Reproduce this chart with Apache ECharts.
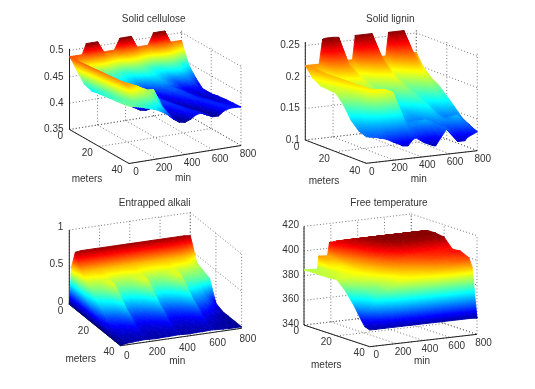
<!DOCTYPE html>
<html><head><meta charset="utf-8">
<style>html,body{margin:0;padding:0;background:#fff}#c{width:535px;height:389px}</style>
<script src="https://cdn.jsdelivr.net/npm/echarts@6/dist/echarts.min.js"></script></head>
<body><div id="c"></div>
<script>
// ---------- tick labels ----------
const minTicks=[0,200,400,600,800];
const meterTicks=[0,20,40];
const celluloseTicks=[0.35,0.4,0.45,0.5];
const ligninTicks=[0.1,0.15,0.2,0.25];
const alkaliTicks=[0,0.5,1];
const temperatureTicks=[340,360,380,400,420];
const titles=["Solid cellulose","Solid lignin","Entrapped alkali","Free temperature"];
const metersStd=[0,5,10,15,20,25,30,35,40];
// ---------- Solid cellulose ----------
const celluloseMin=[0,15,30,45,60,75,90,120,160,200,240,280,320,360,400,440,480,520,560,600,640,680,720,760,800];
const celluloseMeters=[0,1.5,5,10,15,20,25,30,35,40];
const celluloseZ=[
[.488,.488,.488,.488,.488,.488,.488,.508,.508,.508,.487,.487,.487,.508,.508,.508,.486,.486,.486,.508,.508,.508,.485,.485,.485],
[.484,.488,.486,.485,.484,.484,.484,.486,.487,.487,.484,.480,.480,.486,.487,.487,.482,.479,.479,.486,.487,.487,.480,.476,.472],
[.470,.486,.480,.470,.462,.458,.456,.454,.456,.460,.460,.456,.452,.452,.458,.460,.458,.452,.450,.452,.458,.460,.456,.450,.446],
[.452,.468,.485,.480,.470,.458,.448,.440,.436,.438,.442,.444,.442,.438,.434,.438,.442,.444,.440,.436,.432,.436,.438,.434,.428],
[.447,.454,.470,.484,.480,.468,.454,.436,.428,.424,.428,.432,.433,.432,.428,.423,.428,.432,.432,.428,.424,.420,.424,.424,.414],
[.450,.451,.456,.470,.483,.479,.466,.443,.430,.421,.418,.424,.429,.430,.427,.423,.418,.424,.428,.428,.424,.420,.416,.420,.416],
[.452,.452,.453,.458,.470,.482,.478,.452,.436,.424,.417,.415,.422,.427,.428,.424,.420,.415,.422,.426,.425,.421,.418,.416,.419],
[.454,.454,.454,.456,.461,.470,.481,.479,.474,.468,.463,.462,.430,.420,.424,.426,.422,.418,.414,.420,.425,.425,.421,.418,.421],
[.456,.456,.456,.456,.456,.457,.458,.458,.458,.458,.456,.441,.423,.414,.418,.424,.424,.420,.415,.413,.420,.425,.424,.422,.422],
[.459,.458,.457,.456,.455,.454,.453,.450,.447,.443,.437,.430,.420,.413,.411,.415,.422,.424,.418,.413,.413,.421,.424,.424,.423]];
// ---------- Solid lignin ----------
const ligninMin=[0,25,50,75,100,125,150,200,240,260,300,340,360,420,480,500,540,580,600,660,710,730,800];
const ligninZ=[
[.218,.218,.218,.218,.218,.257,.258,.258,.257,.219,.219,.219,.257,.257,.257,.219,.219,.219,.256,.256,.256,.219,.219],
[.2026,.216,.206,.202,.200,.205,.222,.228,.223,.218,.205,.200,.205,.225,.228,.222,.205,.200,.205,.225,.228,.222,.198],
[.195,.200,.212,.204,.196,.192,.192,.200,.206,.206,.200,.191,.188,.196,.206,.206,.197,.189,.187,.196,.206,.204,.187],
[.194,.195,.198,.210,.196,.186,.181,.180,.186,.190,.192,.186,.181,.177,.188,.192,.190,.182,.178,.178,.188,.190,.180],
[.1926,.193,.194,.197,.208,.194,.182,.170,.170,.172,.178,.180,.176,.166,.170,.174,.178,.176,.172,.164,.170,.174,.168],
[.179,.180,.182,.186,.192,.206,.190,.165,.156,.156,.160,.166,.168,.158,.152,.155,.163,.168,.166,.154,.150,.153,.156],
[.159,.160,.163,.168,.176,.188,.204,.203,.202,.200,.196,.165,.150,.146,.142,.143,.150,.156,.155,.145,.137,.138,.143],
[.147,.147,.148,.150,.152,.154,.155,.158,.160,.160,.158,.150,.146,.146,.152,.150,.146,.142,.142,.145,.154,.150,.136],
[.142,.141,.140,.139,.137,.136,.134,.128,.124,.121,.120,.130,.131,.122,.116,.115,.128,.140,.138,.118,.118,.123,.130]];
// ---------- Entrapped alkali ----------
const alkaliMin=[0,15,40,80,120,170,190,240,280,320,390,410,460,500,540,610,630,680,720,760,800];
const alkaliZ=[
[0,.50,.69,.70,.70,.70,.70,.70,.70,.70,.70,.70,.70,.70,.70,.70,.70,.70,.70,.70,.69],
[0,.36,.50,.50,.50,.50,.50,.50,.50,.50,.50,.50,.50,.50,.50,.50,.50,.50,.49,.46,.40],
[0,.26,.40,.40,.41,.43,.41,.40,.40,.41,.43,.41,.40,.40,.41,.43,.41,.40,.39,.38,.36],
[0,.18,.30,.33,.36,.43,.34,.32,.33,.36,.43,.34,.32,.33,.36,.43,.34,.33,.33,.33,.325],
[0,.12,.22,.24,.26,.33,.23,.22,.24,.26,.33,.23,.22,.24,.26,.33,.23,.22,.20,.14,.06],
[0,.07,.13,.14,.16,.22,.14,.13,.14,.16,.22,.14,.13,.14,.16,.22,.14,.13,.10,.06,.02],
[0,.04,.07,.08,.09,.12,.08,.07,.08,.09,.12,.08,.07,.08,.09,.12,.08,.06,.04,.025,.02],
[0,.02,.04,.045,.05,.06,.045,.04,.045,.05,.06,.045,.04,.045,.05,.06,.04,.03,.025,.02,.02],
[0,.01,.02,.025,.03,.035,.03,.025,.03,.03,.035,.03,.025,.03,.03,.035,.03,.025,.02,.02,.02]];
// ---------- Free temperature ----------
const temperatureMin=[0,50,100,110,175,190,240,300,360,420,480,540,600,660,720,760,800];
const temperatureMeters=[0,5,10,15,20,25,30,35,37,40];
const temperatureZ=[
[384.6,384.4,384,394.5,394,404.5,405,405,405,405,405,405,405,405,405,405,405],
[385,385,386,390,393,398,406,408,408,408,408,408,408,408,408,408,408],
[385,385.5,386,388,390,394,400,408,410.5,411,411,411,411,411,411,411,411],
[385,386,387,388,390,392,396,404,409,411,411,411,411,411,411,411,411],
[385.5,386.5,387.5,388,389,390,393,398,404,408,410,410,410,410,410,410,410],
[379,382,384,385,387,388,390,394,397,399,401,402,403,403,403,403,402.5],
[370,374,378,380,382,384,386,389,392,394,396,398,400,401,402,403,403],
[359,365,372,376,380,382,384,387,388,389,390,392,394,396,398,399,400],
[355,358,362,364,368,371,374,378,380,382,384,386,388,390,391,392,393.5],
[353.5,353.5,353.5,353.5,353.5,353.5,353.5,353.5,353.5,353.5,353.5,353.5,353.5,353.5,353.5,353.5,353]];

// ---------- projection set-up (oblique view of each panel) ----------
const panels=[
{title:0,tx:153.7,ty:19,o:[69.5,129.5],tv:[112,-18],mv:[59.5,34],k:527,zb:.35,zt:.503,zTicks:celluloseTicks,c:[.41,.508],T:celluloseMin,M:celluloseMeters,Z:celluloseZ,
 zOff:[-6,0],tOff:[7,9],mOff:[-6.5,7],metersAt:[87,179],minAt:[183,178]},
{title:1,tx:390.3,ty:19,o:[305.3,140],tv:[111,-12.6],mv:[61,23.3],k:630,zb:.1,zt:.2556,zTicks:ligninTicks,c:[.108,.258],T:ligninMin,M:metersStd,Z:ligninZ,
 zOff:[-5.6,0],tOff:[5.5,8.5],mOff:[-6,7.7],metersAt:[324,181.7],minAt:[418.7,179]},
{title:2,tx:154.7,ty:203.3,o:[69.3,304.3],tv:[121,-17.4],mv:[51.3,41.4],k:74.3,zb:0,zt:1,zTicks:alkaliTicks,c:[0,.72],T:alkaliMin,M:metersStd,Z:alkaliZ,
 zOff:[-6,-2.5],tOff:[6.3,11],mOff:[-6,6.7],metersAt:[80.7,359.3],minAt:[177.3,361]},
{title:3,tx:389,ty:203.3,o:[304,325],tv:[107.3,-12.4],mv:[65.7,21.7],k:1.233,zb:340,zt:420,zTicks:temperatureTicks,c:[351,411.5],T:temperatureMin,M:temperatureMeters,Z:temperatureZ,
 zOff:[-5,-0.7],tOff:[6.5,8.5],mOff:[-5,6.7],metersAt:[326.3,365],minAt:[422,361.7]}
];
const project=(p,t,m,z)=>[
 p.o[0]+p.tv[0]*t/800+p.mv[0]*m/40,
 p.o[1]+p.tv[1]*t/800+p.mv[1]*m/40-p.k*(z-p.zb)];

// ---------- jet colormap ----------
const knots=[[0,0,0,.5],[.125,0,0,1],[.375,0,1,1],[.625,1,1,0],[.875,1,0,0],[1,.5,0,0]];
function jet(f){f=Math.max(0,Math.min(1,f));
 for(let i=1;i<knots.length;i++){if(f<=knots[i][0]){const a=knots[i-1],b=knots[i],u=(f-a[0])/(b[0]-a[0]);
  const c=[1,2,3].map(j=>Math.round(255*(a[j]+(b[j]-a[j])*u)));return `rgb(${c})`;}}
 return 'rgb(128,0,0)';}
function triFill(pts,fr){
 const [a,b,c]=pts,[fa,fb,fc]=fr;
 const det=(b[0]-a[0])*(c[1]-a[1])-(c[0]-a[0])*(b[1]-a[1]);
 const lo=Math.min(fa,fb,fc),hi=Math.max(fa,fb,fc);
 if(Math.abs(det)<1e-6||hi-lo<1e-5) return jet((fa+fb+fc)/3);
 const gx=((fb-fa)*(c[1]-a[1])-(fc-fa)*(b[1]-a[1]))/det;
 const gy=((fc-fa)*(b[0]-a[0])-(fb-fa)*(c[0]-a[0]))/det;
 const g2=gx*gx+gy*gy, s=pts[fr.indexOf(lo)], d=(hi-lo)/g2;
 const stops=[{offset:0,color:jet(lo)}];
 knots.forEach(k=>{if(k[0]>lo&&k[0]<hi)stops.push({offset:(k[0]-lo)/(hi-lo),color:jet(k[0])});});
 stops.push({offset:1,color:jet(hi)});
 return {type:'linear',global:true,x:s[0],y:s[1],x2:s[0]+gx*d,y2:s[1]+gy*d,colorStops:stops};
}

// ---------- build marks from the arrays ----------
function triangles(p){const out=[],T=p.T,M=p.M,Z=p.Z;
 const v=(i,j)=>({xy:project(p,T[i],M[j],Z[j][i]),f:(Z[j][i]-p.c[0])/(p.c[1]-p.c[0])});
 for(let j=0;j<M.length-1;j++)for(let i=T.length-2;i>=0;i--){
  out.push([v(i,j),v(i+1,j),v(i+1,j+1)]);
  out.push([v(i,j),v(i+1,j+1),v(i,j+1)]);
 }
 return out;}
function frame(p){const dot=[],solid=[],L=(a,b,list)=>list.push([a,b]);
 const P=(t,m,z)=>project(p,t,m,z);
 minTicks.forEach(t=>{L(P(t,0,p.zb),P(t,40,p.zb),dot);L(P(t,0,p.zb),P(t,0,p.zt),dot);});
 meterTicks.forEach(m=>{L(P(0,m,p.zb),P(800,m,p.zb),dot);L(P(800,m,p.zb),P(800,m,p.zt),dot);});
 p.zTicks.forEach(z=>{L(P(0,0,z),P(800,0,z),dot);L(P(800,0,z),P(800,40,z),dot);});
 L(P(0,0,p.zb),P(0,0,p.zt),solid);L(P(0,0,p.zb),P(0,40,p.zb),solid);L(P(0,40,p.zb),P(800,40,p.zb),solid);
 return {dot,solid};}
function labels(p){const out=[];
 p.zTicks.forEach(z=>{const q=project(p,0,0,z);out.push({s:String(z),x:q[0]+p.zOff[0],y:q[1]+p.zOff[1],a:'right'});});
 minTicks.forEach(t=>{const q=project(p,t,40,p.zb);out.push({s:String(t),x:q[0]+p.tOff[0],y:q[1]+p.tOff[1],a:'center'});});
 meterTicks.forEach(m=>{const q=project(p,0,m,p.zb);out.push({s:String(m),x:q[0]+p.mOff[0],y:q[1]+p.mOff[1],a:'right'});});
 out.push({s:'meters',x:p.metersAt[0],y:p.metersAt[1],a:'center'});
 out.push({s:'min',x:p.minAt[0],y:p.minAt[1],a:'center'});
 out.push({s:titles[p.title],x:p.tx,y:p.ty,a:'center'});
 return out;}

const series=[];
panels.forEach(p=>{
 const f=frame(p),tr=triangles(p),lb=labels(p);
 const seg=(list,style,z)=>({type:'custom',coordinateSystem:'cartesian2d',silent:true,animation:false,z,progressive:0,clip:false,
  data:list.map((_,i)=>[i,0]),
  renderItem:(ps,api)=>{const s=list[ps.dataIndex],a=api.coord(s[0]),b=api.coord(s[1]);
   return {type:'line',shape:{x1:a[0],y1:a[1],x2:b[0],y2:b[1]},style};}});
 series.push(seg(f.dot,{stroke:'#555',lineWidth:.8,lineDash:[1,2.2],fill:null},1));
 series.push(seg(f.solid,{stroke:'#222',lineWidth:1,fill:null},2));
 series.push({type:'custom',coordinateSystem:'cartesian2d',silent:true,animation:false,z:3,progressive:0,clip:false,
  data:tr.map((_,i)=>[i,0]),
  renderItem:(ps,api)=>{const t=tr[ps.dataIndex],pts=t.map(v=>api.coord(v.xy));
   const fill=triFill(pts,t.map(v=>v.f));
   return {type:'polygon',shape:{points:pts},style:{fill,stroke:fill,lineWidth:.9,lineJoin:'round'}};}});
 series.push({type:'custom',coordinateSystem:'cartesian2d',silent:true,animation:false,z:4,progressive:0,clip:false,
  data:lb.map((_,i)=>[i,0]),
  renderItem:(ps,api)=>{const l=lb[ps.dataIndex],q=api.coord([l.x,l.y]);
   return {type:'text',style:{x:q[0],y:q[1],text:l.s,fill:'#333',font:'10px "Liberation Sans",Arial,sans-serif',textAlign:l.a,textVerticalAlign:'middle'}};}});
});
const chart=echarts.init(document.getElementById('c'),null,{renderer:'canvas'});
chart.setOption({animation:false,backgroundColor:'#fff',
 grid:{left:0,right:0,top:0,bottom:0,containLabel:false},
 xAxis:{type:'value',min:0,max:535,show:false},
 yAxis:{type:'value',min:0,max:389,inverse:true,show:false},
 series});
</script></body></html>
